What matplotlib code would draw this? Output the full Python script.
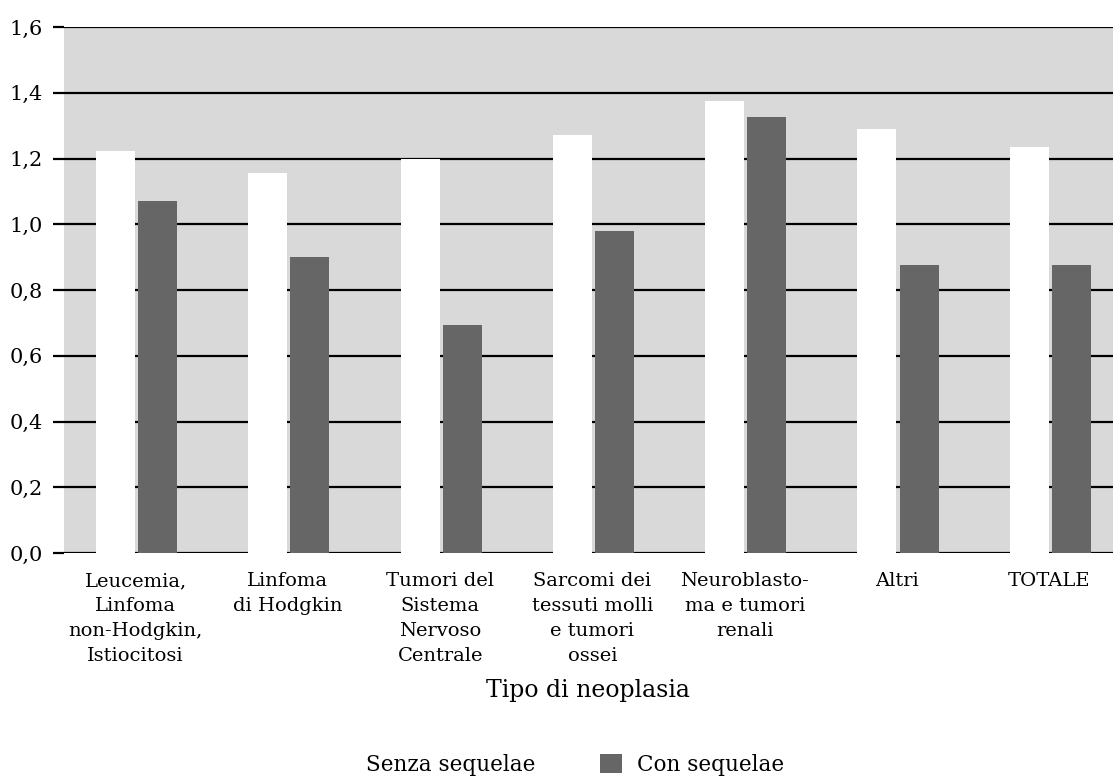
import matplotlib.pyplot as plt
import numpy as np
from matplotlib.patches import Patch

categories = [
    "Leucemia,\nLinfoma\nnon-Hodgkin,\nIstiocitosi",
    "Linfoma\ndi Hodgkin",
    "Tumori del\nSistema\nNervoso\nCentrale",
    "Sarcomi dei\ntessuti molli\ne tumori\nossei",
    "Neuroblasto-\nma e tumori\nrenali",
    "Altri",
    "TOTALE",
]
senza_sequelae = [1.223, 1.156, 1.198, 1.271, 1.375, 1.29, 1.235]
con_sequelae = [1.071, 0.90, 0.694, 0.979, 1.326, 0.876, 0.876]
y_ticks = [0.0, 0.2, 0.4, 0.6, 0.8, 1.0, 1.2, 1.4, 1.6]
y_labels = ["0,0", "0,2", "0,4", "0,6", "0,8", "1,0", "1,2", "1,4", "1,6"]

plt.rcParams["font.family"] = ["DejaVu Serif"]

fig = plt.figure(figsize=(11.13, 7.8), dpi=100)
ax = fig.add_axes([64 / 1113, 1 - 553 / 780, 1 - 64 / 1113, 526 / 780])
ax.set_facecolor("#d9d9d9")

x = np.arange(len(categories))
width = 0.256
ax.bar(x + 0.338, senza_sequelae, width, color="white", zorder=3)
ax.bar(x + 0.614, con_sequelae, width, color="#666666", zorder=3)

ax.set_xlim(0, 1049 / 152.3)
ax.set_ylim(0, 1.6)
ax.set_yticks(y_ticks)
ax.set_yticklabels(y_labels, fontsize=15)
ax.yaxis.grid(True, color="black", linewidth=1.6, zorder=2)
ax.set_axisbelow(True)
ax.tick_params(axis="y", length=8, width=1.6, pad=7, color="black")
for spine in ax.spines.values():
    spine.set_visible(False)
ax.set_xticks(x + 0.47)
ax.set_xticklabels(categories, fontsize=14, va="top", linespacing=1.5)
ax.tick_params(axis="x", length=0, pad=14)

fig.text(588 / 1113, 1 - 690 / 780, "Tipo di neoplasia", fontsize=17,
         ha="center", va="center")

handles = [
    Patch(facecolor="white", edgecolor="none", label="Senza sequelae"),
    Patch(facecolor="#666666", edgecolor="none", label="Con sequelae"),
]
fig.legend(handles=handles, loc="center", bbox_to_anchor=(557 / 1113, 1 - 765 / 780),
           ncol=2, frameon=False, fontsize=15.5, handlelength=1.0, handleheight=1.0,
           handletextpad=0.7, columnspacing=3.0)

fig.savefig("out.png", dpi=100, facecolor="white")
